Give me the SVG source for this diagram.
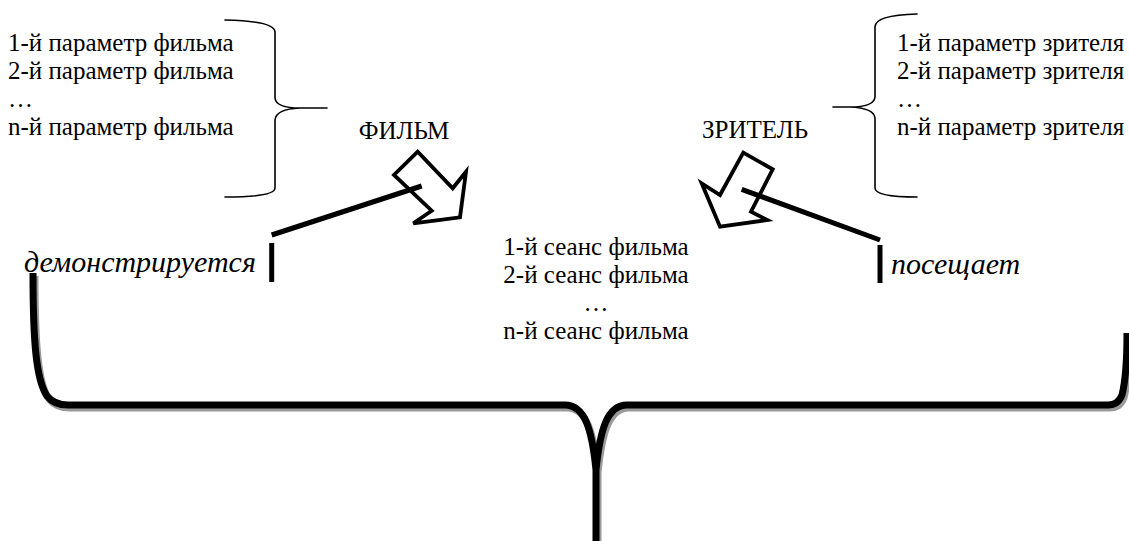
<svg xmlns="http://www.w3.org/2000/svg" width="1129" height="541" viewBox="0 0 1129 541">
  <style>
    .t { font-family: "Liberation Serif", "DejaVu Serif", serif; font-size: 25px; fill: #000; }
    .c { text-anchor: middle; }
    .it { font-family: "Liberation Serif", "DejaVu Serif", serif; font-style: italic; font-size: 30px; fill: #000; }
    .thin { fill: none; stroke: #000; stroke-width: 1.6; stroke-linecap: round; }
    .bar { fill: none; stroke: #000; stroke-width: 5; }
    .arrow { fill: none; stroke: #000; stroke-width: 3.8; stroke-linejoin: miter; }
    .big { fill: none; stroke: #000; stroke-width: 7; stroke-linecap: butt; stroke-linejoin: round; }
    .shadow { fill: none; stroke: #9a9a9a; stroke-width: 7; stroke-linejoin: round; }
  </style>

  <!-- film parameters -->
  <g id="film-params">
    <text class="t" x="8" y="51">1-й параметр фильма</text>
    <text class="t" x="8" y="79">2-й параметр фильма</text>
    <text class="t" x="8" y="107">…</text>
    <text class="t" x="8" y="135">n-й параметр фильма</text>
    <path class="thin" d="M225,20 Q275,21 275,32 L275,98 Q276,108 300,108 L327,108 M300,108 Q276,109 275,120 L275,188 Q275,197 225,197"/>
  </g>

  <!-- viewer parameters -->
  <g id="viewer-params">
    <text class="t" x="897" y="51">1-й параметр зрителя</text>
    <text class="t" x="897" y="79">2-й параметр зрителя</text>
    <text class="t" x="897" y="107">…</text>
    <text class="t" x="897" y="135">n-й параметр зрителя</text>
    <path class="thin" d="M917,14 Q875,15 875,27 L875,97 Q874,107 850,107 L833,107 M850,107 Q874,108 875,118 L875,188 Q875,197 917,197"/>
  </g>

  <g id="film">
    <text class="t c" x="404" y="139">ФИЛЬМ</text>
  </g>

  <g id="viewer">
    <text class="t c" x="755" y="138">ЗРИТЕЛЬ</text>
  </g>

  <g id="sessions">
    <text class="t c" x="596" y="255">1-й сеанс фильма</text>
    <text class="t c" x="596" y="283">2-й сеанс фильма</text>
    <text class="t c" x="596" y="311">…</text>
    <text class="t c" x="596" y="339">n-й сеанс фильма</text>
  </g>

  <g id="shown-label">
    <text class="it" x="24" y="272">демонстрируется</text>
  </g>

  <g id="visits-label">
    <text class="it" x="891" y="274">посещает</text>
  </g>

  <!-- connectors -->
  <g id="connectors">
    <!-- film arrow -->
    <polygon class="arrow" points="417.7,151.7 394,175 431.7,210.7 413.3,223.3 460,217.3 466,171.7 452.7,188.3"/>
    <line class="bar" x1="271.7" y1="235" x2="421.7" y2="186"/>
    <line class="bar" x1="271.7" y1="243" x2="271.7" y2="282"/>

    <!-- viewer arrow -->
    <polygon class="arrow" points="743.3,152.7 772.7,169.3 751,211.7 767.3,220 720,226.7 701.7,183.3 720,195"/>
    <line class="bar" x1="741.7" y1="189.3" x2="880" y2="240"/>
    <line class="bar" x1="880" y1="245" x2="880" y2="283"/>

    <!-- large brace with its drop shadow -->
    <g transform="translate(2,3)">
      <path class="shadow" d="M33,273 C33,340 36,380 47,396 Q54,405 68,405 L565,405 C585,405 592,430 596,470 L596,541 M596,470 C600,430 607,405 627,405 L1108,405 Q1118,405 1122,395 C1127,375 1127,350 1127,333"/>
    </g>
    <path class="big" d="M33,273 C33,340 36,380 47,396 Q54,405 68,405 L565,405 C585,405 592,430 596,470 L596,541 M596,470 C600,430 607,405 627,405 L1108,405 Q1118,405 1122,395 C1127,375 1127,350 1127,333"/>
  </g>
</svg>
